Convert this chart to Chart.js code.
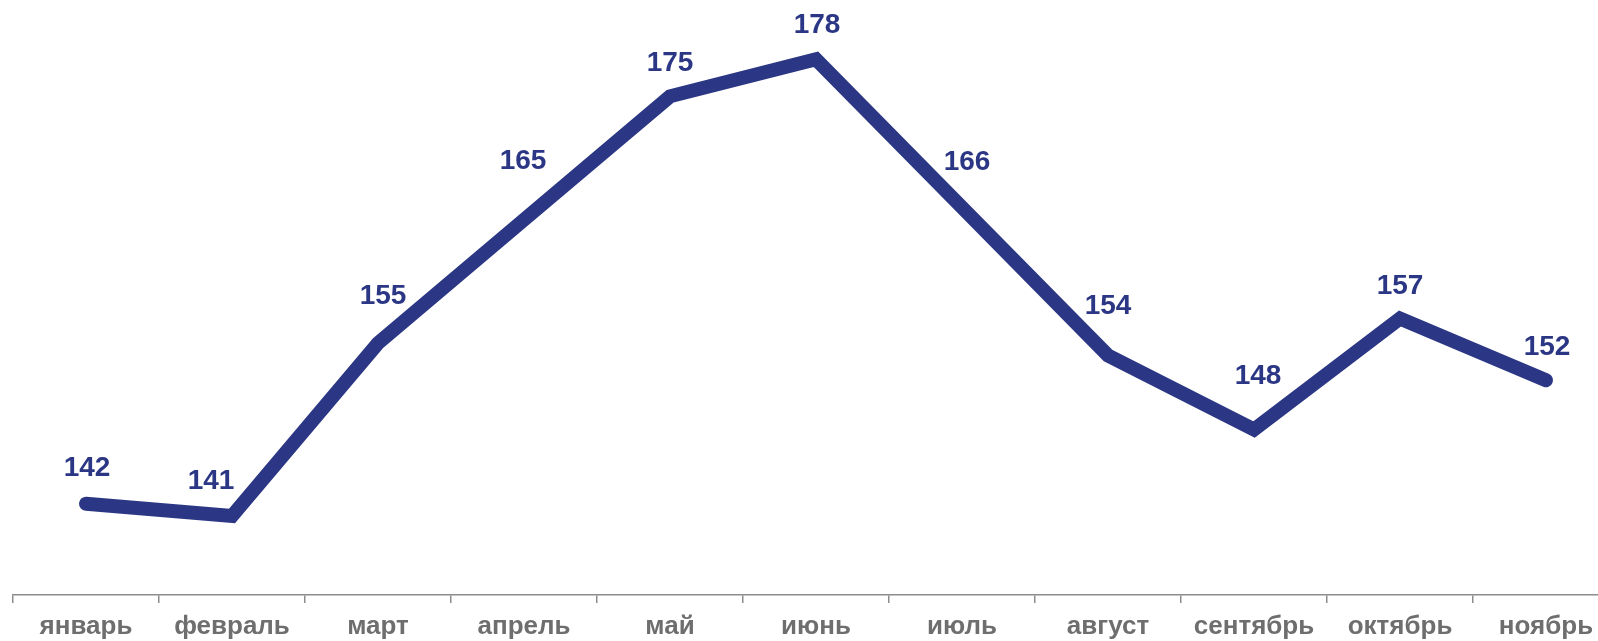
<!DOCTYPE html>
<html lang="ru">

<head>
    <meta charset="UTF-8">
    <title>Помесячная динамика</title>
    <script src="https://cdn.jsdelivr.net/npm/chart.js"></script>
    <style>
        html, body { margin: 0; padding: 0; background: #fff; overflow: hidden; }
        .wrap { position: relative; width: 1622px; height: 641px; }
    </style>
</head>

<body>
    <div class="wrap">
        <canvas id="lineChart"></canvas>
    </div>

    <script>
        const months = ['январь', 'февраль', 'март', 'апрель', 'май', 'июнь', 'июль', 'август', 'сентябрь', 'октябрь', 'ноябрь'];
        const values = [142, 141, 155, 165, 175, 178, 166, 154, 148, 157, 152];

        const lineColor = '#2b3784';
        const axisColor = '#8c8c8c';
        const fontFamily = '"Liberation Sans", Arial, sans-serif';

        // label nudges (px) so the numbers sit like in the original
        const labelShiftX = [1, -21, 5, -1, 0, 1, 5, 0, 4, 0, 1];
        const labelShiftY = [-35, -35, -47, -58, -33, -34, -45, -49, -53, -32, -33];

        const valueLabels = {
            id: 'valueLabels',
            afterDatasetsDraw(chart) {
                const ctx = chart.ctx;
                const meta = chart.getDatasetMeta(0);
                ctx.save();
                ctx.font = 'bold 28px ' + fontFamily;
                ctx.fillStyle = lineColor;
                ctx.textAlign = 'center';
                ctx.textBaseline = 'middle';
                meta.data.forEach((pt, i) => {
                    ctx.fillText(String(values[i]), pt.x + labelShiftX[i], pt.y + labelShiftY[i]);
                });
                ctx.restore();
            }
        };

        const ctx = document.getElementById('lineChart').getContext('2d');
        new Chart(ctx, {
            type: 'line',
            data: {
                labels: months,
                datasets: [{
                    data: values,
                    borderColor: lineColor,
                    borderWidth: 14,
                    borderCapStyle: 'round',
                    borderJoinStyle: 'miter',
                    pointRadius: 0,
                    pointHoverRadius: 0,
                    tension: 0,
                    fill: false,
                    clip: false
                }]
            },
            options: {
                responsive: true,
                maintainAspectRatio: false,
                animation: false,
                events: [],
                layout: { padding: { left: 13, right: 3, top: 0, bottom: 0 } },
                plugins: {
                    legend: { display: false },
                    tooltip: { enabled: false }
                },
                scales: {
                    x: {
                        offset: true,
                        grid: {
                            offset: true,
                            drawOnChartArea: false,
                            drawTicks: true,
                            tickLength: 8,
                            color: axisColor,
                            lineWidth: 1.5
                        },
                        border: { display: true, color: axisColor, width: 1.5 },
                        ticks: {
                            color: '#6e6e6e',
                            padding: 8,
                            maxRotation: 0,
                            autoSkip: false,
                            font: { family: fontFamily, size: 26, weight: 'bold' }
                        },
                        afterFit(scale) { scale.height = 46; }
                    },
                    y: {
                        display: false,
                        min: 134.6,
                        max: 182.8
                    }
                }
            },
            plugins: [valueLabels]
        });
    </script>
</body>

</html>
